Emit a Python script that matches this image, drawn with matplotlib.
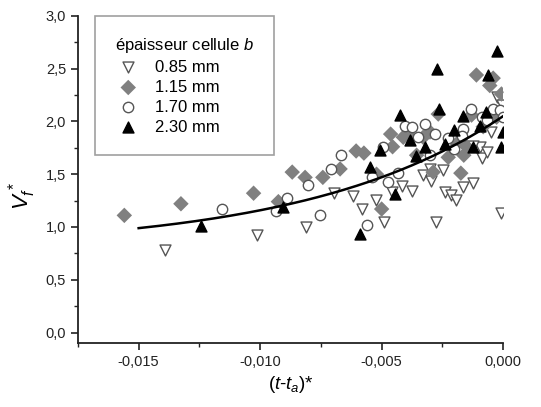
import matplotlib
matplotlib.use("Agg")
import matplotlib.pyplot as plt
import numpy as np
from matplotlib.ticker import MultipleLocator, FuncFormatter

plt.rcParams['font.family'] = ['Liberation Sans', 'DejaVu Sans']
plt.rcParams['mathtext.fontset'] = 'custom'
plt.rcParams['mathtext.rm'] = 'Liberation Sans'
plt.rcParams['mathtext.it'] = 'Liberation Sans:italic'

# 0.85 mm (open down triangles)
x085 = [-0.0139, -0.01014, -0.0081, -0.00695, -0.00616, -0.00582, -0.00523, -0.0049,
        -0.00459, -0.00415, -0.00377, -0.00329, -0.00297, -0.00278, -0.00247, -0.0024,
        -0.00216, -0.00195, -0.00164, -0.00126, -0.00096, -0.00086, -0.00068, -0.00048,
        -0.00027, -0.00003, -0.00007, -0.00178, -0.00123, -0.0030]
y085 = [0.78, 0.92, 1.00, 1.32, 1.29, 1.17, 1.26, 1.05,
        1.33, 1.39, 1.34, 1.49, 1.44, 1.05, 1.54, 1.33,
        1.30, 1.26, 1.38, 1.42, 1.76, 1.65, 1.71, 1.90,
        2.23, 2.16, 1.13, 1.84, 1.77, 1.55]

# 1.15 mm (grey diamonds)
x115 = [-0.01559, -0.01326, -0.01027, -0.00925, -0.00868, -0.00815, -0.00742, -0.00671,
        -0.00605, -0.00573, -0.00521, -0.0050, -0.00463, -0.00455, -0.00411, -0.0039,
        -0.00356, -0.00329, -0.00301, -0.00288, -0.00267, -0.00226, -0.00174, -0.00162,
        -0.0013, -0.0011, -0.00082, -0.00055, -0.00041, -0.00007, -0.00027, -0.0015, -0.0019]
y115 = [1.11, 1.22, 1.32, 1.24, 1.52, 1.47, 1.47, 1.55,
        1.72, 1.70, 1.50, 1.17, 1.88, 1.76, 1.85, 1.87,
        1.68, 1.85, 1.90, 1.52, 2.07, 1.66, 1.51, 1.68,
        2.06, 2.44, 1.95, 2.34, 2.41, 2.26, 2.04, 1.76, 1.79]

# 1.70 mm (open circles)
x170 = [-0.01156, -0.00934, -0.00888, -0.00801, -0.00753, -0.00708, -0.00668, -0.00562,
        -0.00541, -0.00493, -0.00473, -0.00434, -0.00404, -0.00377, -0.00349, -0.00322,
        -0.00301, -0.00281, -0.00226, -0.00203, -0.00164, -0.00134, -0.00089, -0.00066,
        -0.00041, -0.00014, 0.0, -0.0017]
y170 = [1.17, 1.15, 1.27, 1.40, 1.11, 1.55, 1.68, 1.02,
        1.47, 1.76, 1.43, 1.51, 1.96, 1.95, 1.85, 1.98,
        1.68, 1.88, 1.84, 1.74, 1.93, 2.12, 2.04, 2.01,
        2.12, 2.11, 2.04, 1.86]

# 2.30 mm (black up triangles)
x230 = [-0.01244, -0.00907, -0.00589, -0.00548, -0.00507, -0.00445, -0.00425, -0.00384,
        -0.00359, -0.00322, -0.00274, -0.00263, -0.0024, -0.00203, -0.00167, -0.00123,
        -0.00096, -0.00071, -0.00064, -0.00025, 0.0, -0.00007]
y230 = [1.01, 1.19, 0.93, 1.57, 1.73, 1.31, 2.06, 1.82,
        1.67, 1.76, 2.50, 2.12, 1.79, 1.92, 2.05, 1.76,
        1.96, 2.09, 2.44, 2.67, 1.90, 1.76]

# fitted curve y = a + b*exp(c*x)
fit_a, fit_b, fit_c = 0.79, 1.26, 123.0
fit_xmin, fit_xmax = -0.015, 0.0

fig = plt.figure(figsize=(5.41, 4.07), dpi=100)
ax = fig.add_axes([0.144, 0.157, 0.786, 0.804])

ms = 62
ax.scatter(x085, y085, s=ms, marker='v', facecolors='white', edgecolors='#555555',
           linewidths=1.0, label='0.85 mm', zorder=3)
ax.scatter(x115, y115, s=ms, marker='D', color='#808080', edgecolors='none',
           label='1.15 mm', zorder=3)
ax.scatter(x170, y170, s=ms * 0.9, marker='o', facecolors='white', edgecolors='#555555',
           linewidths=1.0, label='1.70 mm', zorder=3)
ax.scatter(x230, y230, s=ms, marker='^', color='black', label='2.30 mm', zorder=3)

xf = np.linspace(fit_xmin, fit_xmax, 200)
ax.plot(xf, fit_a + fit_b * np.exp(fit_c * xf), color='black', lw=1.8, zorder=4)

ax.set_xlim(-0.0175, 0.0)
ax.set_ylim(-0.1, 3.0)
ax.xaxis.set_major_locator(MultipleLocator(0.005))
ax.xaxis.set_minor_locator(MultipleLocator(0.0025))
ax.yaxis.set_major_locator(MultipleLocator(0.5))
ax.yaxis.set_minor_locator(MultipleLocator(0.25))
ax.xaxis.set_major_formatter(FuncFormatter(lambda v, p: f"{v:.3f}".replace('.', ',').replace('-0,000', '0,000')))
ax.yaxis.set_major_formatter(FuncFormatter(lambda v, p: f"{v:.1f}".replace('.', ',')))

for s in ['top', 'right']:
    ax.spines[s].set_visible(False)
for s in ['left', 'bottom']:
    ax.spines[s].set_linewidth(1.3)
    ax.spines[s].set_color('#222222')
ax.tick_params(which='major', direction='out', length=5, width=1.2, labelsize=10.5, colors='#222222')
ax.tick_params(which='minor', direction='out', length=3, width=1.0, colors='#222222')

ax.set_xlabel(r'($\it{t}$-$\it{t}_{\it{a}}$)*', fontsize=13.5, labelpad=4)
ax.set_ylabel(r'$\it{V}^{\,*}_{\it{f}}$', fontsize=16)
ax.yaxis.set_label_coords(-0.095, 0.45)

leg = ax.legend(title=r'épaisseur cellule $\it{b}$', loc='upper left',
                bbox_to_anchor=(0.04, 1.0), borderaxespad=0.0,
                fontsize=12, title_fontsize=12,
                frameon=True, fancybox=False, edgecolor='#888888',
                borderpad=1.2, handletextpad=0.8, labelspacing=0.3,
                handlelength=1.6, scatterpoints=1)
leg.get_frame().set_linewidth(1.2)
leg._legend_box.align = 'left'

fig.savefig('out.png', dpi=100)
